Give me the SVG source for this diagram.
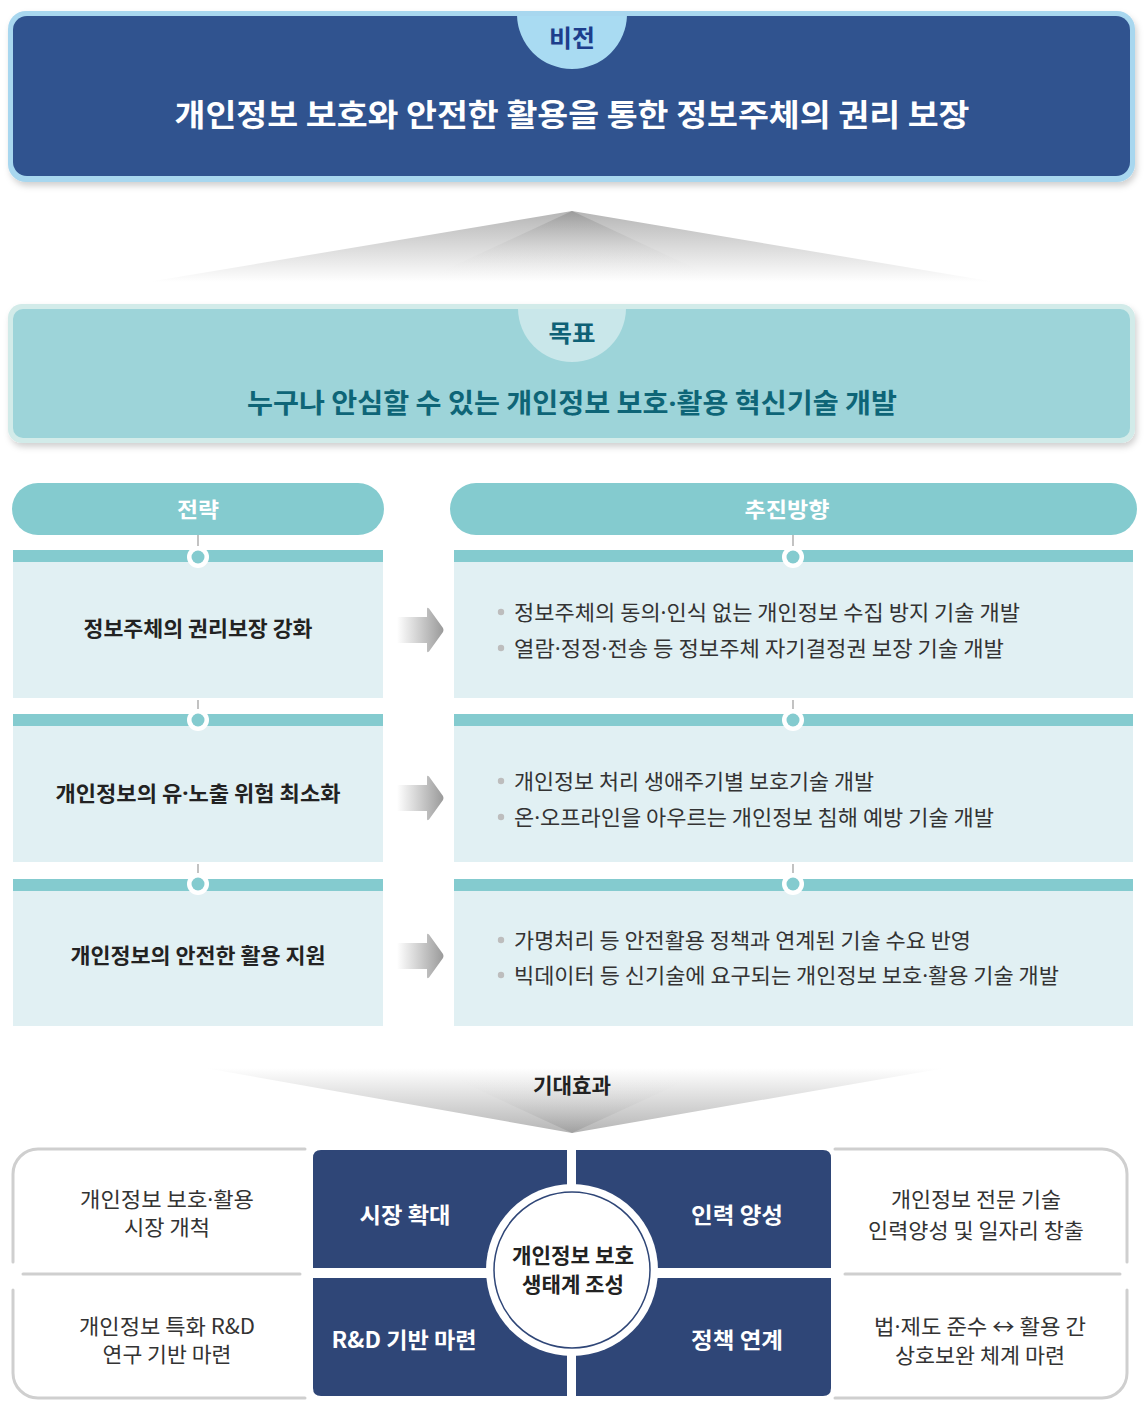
<svg xmlns="http://www.w3.org/2000/svg" width="1145" height="1416" viewBox="0 0 1145 1416">
<defs>
<style>
text{font-family:"Noto Sans CJK KR","Noto Sans",sans-serif;text-anchor:middle}
.b{font-weight:700}
.r{font-weight:400}
.wt{fill:#ffffff}
.dk{fill:#222222}
.bl{fill:#333333;text-anchor:start}
.md{font-family:"Noto Sans","DejaVu Sans",sans-serif}
.bar{fill:#84cbcf}
.body{fill:#e1f0f3}
.tick{stroke:#9a9a9a;stroke-width:1.2}
.ring{fill:#ffffff}
.dot{fill:#84cbcf}
.bul{fill:#bdbdbd}
.navy{fill:#2f4677}
.out{fill:none;stroke:#cfcfcf;stroke-width:3;stroke-linecap:round}
</style>
<linearGradient id="fanTop" x1="0" y1="0" x2="0" y2="1">
<stop offset="0" stop-color="#b5b5b5"/>
<stop offset="1" stop-color="#ffffff"/>
</linearGradient>
<linearGradient id="fanTopIn" x1="0" y1="0" x2="0" y2="1">
<stop offset="0" stop-color="#8a8a8a"/>
<stop offset="1" stop-color="#ffffff" stop-opacity="0"/>
</linearGradient>
<linearGradient id="fanBot" x1="0" y1="0" x2="0" y2="1">
<stop offset="0" stop-color="#ffffff"/>
<stop offset="1" stop-color="#b5b5b5"/>
</linearGradient>
<linearGradient id="fanBotIn" x1="0" y1="0" x2="0" y2="1">
<stop offset="0" stop-color="#ffffff" stop-opacity="0"/>
<stop offset="1" stop-color="#8a8a8a"/>
</linearGradient>
<linearGradient id="arr" x1="0" y1="0" x2="1" y2="0">
<stop offset="0" stop-color="#ffffff"/>
<stop offset="1" stop-color="#9a9a9a"/>
</linearGradient>
<filter id="sh" x="-5%" y="-10%" width="110%" height="130%">
<feDropShadow dx="2" dy="4" stdDeviation="3" flood-color="#000" flood-opacity="0.18"/>
</filter>
<clipPath id="cv"><rect x="13" y="16" width="1117" height="160" rx="14"/></clipPath>
<clipPath id="cg"><rect x="13" y="309" width="1117" height="129" rx="10"/></clipPath>
<symbol id="arrow" viewBox="0 0 48 46" width="48" height="46">
<path d="M0,10 H30 V2 Q30,0 32,1.5 L46,21 Q47,23 46,25 L32,44.5 Q30,46 30,44 V36 H0 Z" fill="url(#arr)"/>
</symbol>
</defs>

<!-- Vision -->
<g id="vision">
<rect x="8" y="11" width="1127" height="171" rx="18" fill="#a8d7ef" filter="url(#sh)"/>
<rect x="13" y="16" width="1117" height="160" rx="14" fill="#30538f"/>
<circle cx="572" cy="14" r="55" fill="#a9dbf2" clip-path="url(#cv)"/>
<text class="b" x="572" y="47" font-size="24" fill="#1d3e8c" textLength="46" lengthAdjust="spacingAndGlyphs">비전</text>
<text class="b wt" x="572" y="126" font-size="31" textLength="795" lengthAdjust="spacingAndGlyphs">개인정보 보호와 안전한 활용을 통한 정보주체의 권리 보장</text>
</g>

<!-- Fan top -->
<g id="fan-top">
<polygon points="572,211 995,282 148,282" fill="url(#fanTop)"/>
<polygon points="572,211 720,280 423,280" fill="url(#fanTopIn)" opacity="0.6"/>
</g>

<!-- Goal -->
<g id="goal">
<rect x="8" y="304" width="1127" height="139" rx="14" fill="#d2ebe9" filter="url(#sh)"/>
<rect x="13" y="309" width="1117" height="129" rx="10" fill="#9dd4d9"/>
<circle cx="572" cy="308" r="54" fill="#c9e7ea" clip-path="url(#cg)"/>
<text class="b" x="572" y="342" font-size="24" fill="#0e6176" textLength="47" lengthAdjust="spacingAndGlyphs">목표</text>
<text class="b" x="572" y="413" font-size="27" fill="#0e6577" textLength="650" lengthAdjust="spacingAndGlyphs">누구나 안심할 수 있는 개인정보 보호<tspan class="md">·</tspan>활용 혁신기술 개발</text>
</g>

<!-- Headers -->
<g id="header-strategy">
<rect x="12" y="483" width="372" height="52" rx="26" fill="#84cbcf"/>
<text class="b wt" x="198" y="517" font-size="21" textLength="42" lengthAdjust="spacingAndGlyphs">전략</text>
</g>
<g id="header-direction">
<rect x="450" y="483" width="687" height="52" rx="26" fill="#84cbcf"/>
<text class="b wt" x="787" y="517" font-size="21" textLength="85" lengthAdjust="spacingAndGlyphs">추진방향</text>
</g>

<!-- Strategy rows -->
<g id="strategy-1">
<rect class="bar" x="13" y="550" width="370" height="12"/>
<rect class="body" x="13" y="562" width="370" height="136"/>
<circle class="ring" cx="198" cy="557" r="11"/><circle class="dot" cx="198" cy="557" r="6.5"/>
<text class="b dk" x="198" y="636" font-size="21" textLength="229" lengthAdjust="spacingAndGlyphs">정보주체의 권리보장 강화</text>
</g>
<g id="direction-1">
<rect class="bar" x="454" y="550" width="679" height="12"/>
<rect class="body" x="454" y="562" width="679" height="136"/>
<circle class="ring" cx="793" cy="557" r="11"/><circle class="dot" cx="793" cy="557" r="6.5"/>
<circle class="bul" cx="501" cy="612" r="3.2"/>
<text class="r bl" x="514" y="620" font-size="21" textLength="506" lengthAdjust="spacingAndGlyphs">정보주체의 동의<tspan class="md">·</tspan>인식 없는 개인정보 수집 방지 기술 개발</text>
<circle class="bul" cx="501" cy="648" r="3.2"/>
<text class="r bl" x="514" y="656" font-size="21" textLength="490" lengthAdjust="spacingAndGlyphs">열람<tspan class="md">·</tspan>정정<tspan class="md">·</tspan>전송 등 정보주체 자기결정권 보장 기술 개발</text>
</g>

<g id="strategy-2">
<rect class="bar" x="13" y="714" width="370" height="12"/>
<rect class="body" x="13" y="726" width="370" height="136"/>
<circle class="ring" cx="198" cy="720" r="11"/><circle class="dot" cx="198" cy="720" r="6.5"/>
<text class="b dk" x="198" y="801" font-size="21" textLength="285" lengthAdjust="spacingAndGlyphs">개인정보의 유<tspan class="md">·</tspan>노출 위험 최소화</text>
</g>
<g id="direction-2">
<rect class="bar" x="454" y="714" width="679" height="12"/>
<rect class="body" x="454" y="726" width="679" height="136"/>
<circle class="ring" cx="793" cy="720" r="11"/><circle class="dot" cx="793" cy="720" r="6.5"/>
<circle class="bul" cx="501" cy="781" r="3.2"/>
<text class="r bl" x="514" y="789" font-size="21" textLength="360" lengthAdjust="spacingAndGlyphs">개인정보 처리 생애주기별 보호기술 개발</text>
<circle class="bul" cx="501" cy="817" r="3.2"/>
<text class="r bl" x="514" y="825" font-size="21" textLength="480" lengthAdjust="spacingAndGlyphs">온<tspan class="md">·</tspan>오프라인을 아우르는 개인정보 침해 예방 기술 개발</text>
</g>

<g id="strategy-3">
<rect class="bar" x="13" y="879" width="370" height="12"/>
<rect class="body" x="13" y="891" width="370" height="135"/>
<circle class="ring" cx="198" cy="884" r="11"/><circle class="dot" cx="198" cy="884" r="6.5"/>
<text class="b dk" x="198" y="963" font-size="21" textLength="255" lengthAdjust="spacingAndGlyphs">개인정보의 안전한 활용 지원</text>
</g>
<g id="direction-3">
<rect class="bar" x="454" y="879" width="679" height="12"/>
<rect class="body" x="454" y="891" width="679" height="135"/>
<circle class="ring" cx="793" cy="884" r="11"/><circle class="dot" cx="793" cy="884" r="6.5"/>
<circle class="bul" cx="501" cy="940" r="3.2"/>
<text class="r bl" x="514" y="948" font-size="21" textLength="457" lengthAdjust="spacingAndGlyphs">가명처리 등 안전활용 정책과 연계된 기술 수요 반영</text>
<circle class="bul" cx="501" cy="975" r="3.2"/>
<text class="r bl" x="514" y="983" font-size="21" textLength="545" lengthAdjust="spacingAndGlyphs">빅데이터 등 신기술에 요구되는 개인정보 보호<tspan class="md">·</tspan>활용 기술 개발</text>
</g>

<!-- Connectors -->
<g id="connectors">
<line class="tick" x1="198" y1="535" x2="198" y2="546"/>
<line class="tick" x1="793" y1="535" x2="793" y2="546"/>
<line class="tick" x1="198" y1="700" x2="198" y2="709"/>
<line class="tick" x1="793" y1="700" x2="793" y2="709"/>
<line class="tick" x1="198" y1="864" x2="198" y2="873"/>
<line class="tick" x1="793" y1="864" x2="793" y2="873"/>
<use href="#arrow" x="397" y="607"/>
<use href="#arrow" x="397" y="775"/>
<use href="#arrow" x="397" y="933"/>
</g>

<!-- Fan bottom -->
<g id="fan-bottom">
<polygon points="205,1068 945,1068 572,1133" fill="url(#fanBot)"/>
<polygon points="440,1072 705,1072 572,1133" fill="url(#fanBotIn)" opacity="0.5"/>
<text class="b dk" x="572" y="1093" font-size="21" textLength="78" lengthAdjust="spacingAndGlyphs">기대효과</text>
</g>

<!-- Outline boxes -->
<g id="effect-left">
<path class="out" d="M305,1149 H38 A25,25 0 0 0 13,1174 V1262"/>
<path class="out" d="M13,1290 V1373 A25,25 0 0 0 38,1398 H305"/>
<path class="out" d="M23,1274 H300"/>
<text class="r" x="167" y="1207" font-size="21" fill="#333" textLength="174" lengthAdjust="spacingAndGlyphs">개인정보 보호<tspan class="md">·</tspan>활용</text>
<text class="r" x="167" y="1235" font-size="21" fill="#333" textLength="86" lengthAdjust="spacingAndGlyphs">시장 개척</text>
<text class="r" x="167" y="1334" font-size="21" fill="#333" textLength="176" lengthAdjust="spacingAndGlyphs">개인정보 특화 R&amp;D</text>
<text class="r" x="167" y="1362" font-size="21" fill="#333" textLength="129" lengthAdjust="spacingAndGlyphs">연구 기반 마련</text>
</g>
<g id="effect-right">
<path class="out" d="M835,1149 H1102 A25,25 0 0 1 1127,1174 V1262"/>
<path class="out" d="M1127,1290 V1373 A25,25 0 0 1 1102,1398 H835"/>
<path class="out" d="M845,1274 H1120"/>
<text class="r" x="976" y="1207" font-size="21" fill="#333" textLength="170" lengthAdjust="spacingAndGlyphs">개인정보 전문 기술</text>
<text class="r" x="976" y="1238" font-size="21" fill="#333" textLength="216" lengthAdjust="spacingAndGlyphs">인력양성 및 일자리 창출</text>
<text class="r" x="980" y="1334" font-size="21" fill="#333" textLength="212" lengthAdjust="spacingAndGlyphs">법<tspan class="md">·</tspan>제도 준수 ↔ 활용 간</text>
<text class="r" x="980" y="1363" font-size="21" fill="#333" textLength="170" lengthAdjust="spacingAndGlyphs">상호보완 체계 마련</text>
</g>

<!-- Navy panels -->
<g id="panel-market">
<path class="navy" d="M321,1150 H567 V1268 H313 V1158 Q313,1150 321,1150 Z"/>
<text class="b wt" x="405" y="1223" font-size="22" textLength="91" lengthAdjust="spacingAndGlyphs">시장 확대</text>
</g>
<g id="panel-talent">
<path class="navy" d="M576,1150 H823 Q831,1150 831,1158 V1268 H576 Z"/>
<text class="b wt" x="737" y="1223" font-size="22" textLength="92" lengthAdjust="spacingAndGlyphs">인력 양성</text>
</g>
<g id="panel-rnd">
<path class="navy" d="M313,1278 H567 V1396 H321 Q313,1396 313,1388 Z"/>
<text class="b wt" x="404" y="1348" font-size="22" textLength="145" lengthAdjust="spacingAndGlyphs">R&amp;D 기반 마련</text>
</g>
<g id="panel-policy">
<path class="navy" d="M576,1278 H831 V1388 Q831,1396 823,1396 H576 Z"/>
<text class="b wt" x="737" y="1348" font-size="22" textLength="92" lengthAdjust="spacingAndGlyphs">정책 연계</text>
</g>
<g id="center">
<circle cx="572" cy="1270" r="86" fill="#ffffff"/>
<circle cx="572" cy="1270" r="78" fill="#ffffff" stroke="#2f4677" stroke-width="1.5"/>
<text class="b dk" x="573" y="1263" font-size="21" textLength="122" lengthAdjust="spacingAndGlyphs">개인정보 보호</text>
<text class="b dk" x="573" y="1292" font-size="21" textLength="102" lengthAdjust="spacingAndGlyphs">생태계 조성</text>
</g>
</svg>
